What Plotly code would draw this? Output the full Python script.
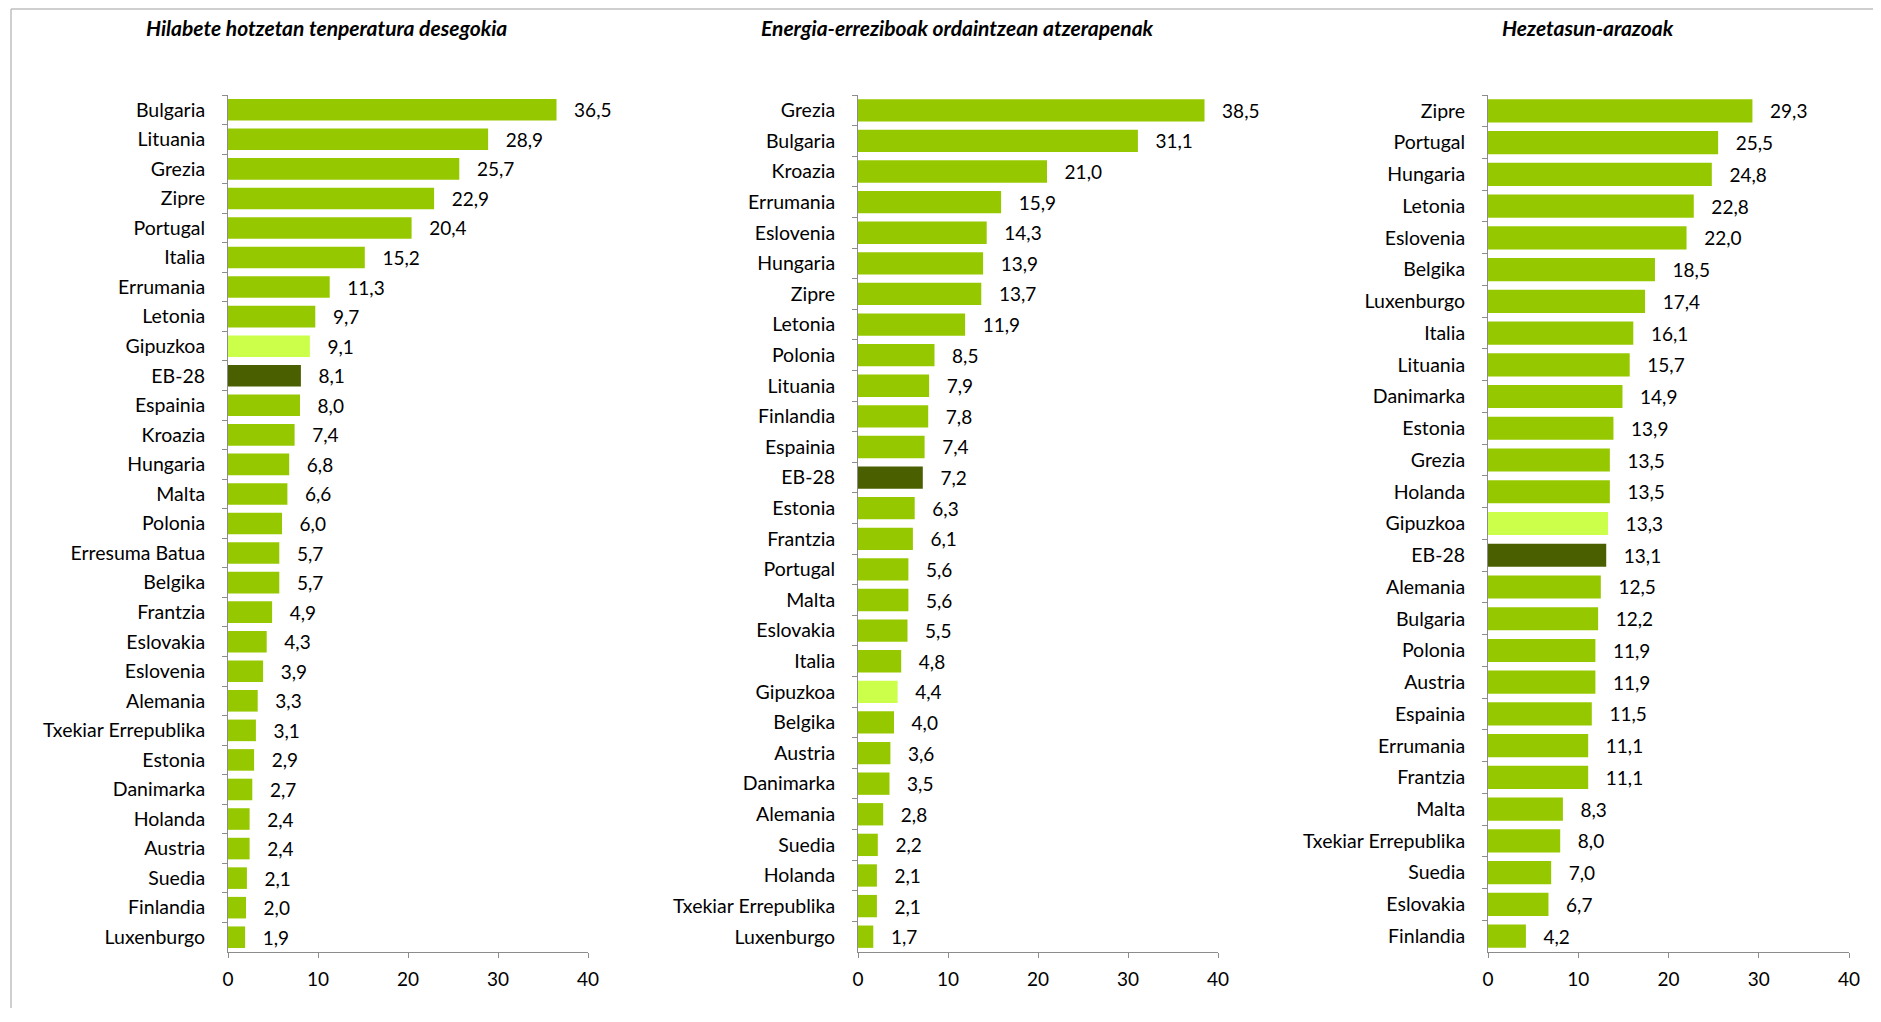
import plotly.graph_objects as go

# ---- data ----
titles = [
    "Hilabete hotzetan tenperatura desegokia",
    "Energia-erreziboak ordaintzean atzerapenak",
    "Hezetasun-arazoak",
]

countries_1 = ["Bulgaria", "Lituania", "Grezia", "Zipre", "Portugal", "Italia", "Errumania",
               "Letonia", "Gipuzkoa", "EB-28", "Espainia", "Kroazia", "Hungaria", "Malta",
               "Polonia", "Erresuma Batua", "Belgika", "Frantzia", "Eslovakia", "Eslovenia",
               "Alemania", "Txekiar Errepublika", "Estonia", "Danimarka", "Holanda", "Austria",
               "Suedia", "Finlandia", "Luxenburgo"]
values_1 = [36.5, 28.9, 25.7, 22.9, 20.4, 15.2, 11.3, 9.7, 9.1, 8.1, 8.0, 7.4, 6.8, 6.6,
            6.0, 5.7, 5.7, 4.9, 4.3, 3.9, 3.3, 3.1, 2.9, 2.7, 2.4, 2.4, 2.1, 2.0, 1.9]

countries_2 = ["Grezia", "Bulgaria", "Kroazia", "Errumania", "Eslovenia", "Hungaria", "Zipre",
               "Letonia", "Polonia", "Lituania", "Finlandia", "Espainia", "EB-28", "Estonia",
               "Frantzia", "Portugal", "Malta", "Eslovakia", "Italia", "Gipuzkoa", "Belgika",
               "Austria", "Danimarka", "Alemania", "Suedia", "Holanda", "Txekiar Errepublika",
               "Luxenburgo"]
values_2 = [38.5, 31.1, 21.0, 15.9, 14.3, 13.9, 13.7, 11.9, 8.5, 7.9, 7.8, 7.4, 7.2, 6.3,
            6.1, 5.6, 5.6, 5.5, 4.8, 4.4, 4.0, 3.6, 3.5, 2.8, 2.2, 2.1, 2.1, 1.7]

countries_3 = ["Zipre", "Portugal", "Hungaria", "Letonia", "Eslovenia", "Belgika", "Luxenburgo",
               "Italia", "Lituania", "Danimarka", "Estonia", "Grezia", "Holanda", "Gipuzkoa",
               "EB-28", "Alemania", "Bulgaria", "Polonia", "Austria", "Espainia", "Errumania",
               "Frantzia", "Malta", "Txekiar Errepublika", "Suedia", "Eslovakia", "Finlandia"]
values_3 = [29.3, 25.5, 24.8, 22.8, 22.0, 18.5, 17.4, 16.1, 15.7, 14.9, 13.9, 13.5, 13.5, 13.3,
            13.1, 12.5, 12.2, 11.9, 11.9, 11.5, 11.1, 11.1, 8.3, 8.0, 7.0, 6.7, 4.2]

x_ticks = [0, 10, 20, 30, 40]

# ---- style ----
# figure sits inside the default 8px body margin of the page, with slack at the bottom
OFF = 8
W, H = 1881 - 2 * OFF, 1022 - 2 * OFF - 6
FONT = "Lato, Calibri, sans-serif"
GREEN = "#96C800"
LIGHT = "#CCFF4A"
DARK = "#4A6000"
AXIS = "#8C8C8C"

def color_for(c):
    if c == "Gipuzkoa":
        return LIGHT
    if c == "EB-28":
        return DARK
    return GREEN

def px(x):
    return (x - OFF) / W

def py(y):
    return 1 - (y - OFF) / H

panels = [(countries_1, values_1), (countries_2, values_2), (countries_3, values_3)]
x_px = [(228, 588), (858, 1218), (1488, 1849)]
title_cx = [326, 957, 1588]
y_top, y_bot = 95, 952

fig = go.Figure()
NB = "\u00a0"
for i, (cats, vals) in enumerate(panels):
    n = i + 1
    fig.add_trace(go.Bar(
        x=vals, y=cats, orientation="h",
        marker=dict(color=[color_for(c) for c in cats], line=dict(width=0)),
        texttemplate=NB * 3 + "%{x:.1f}", textposition="outside",
        textfont=dict(family=FONT, size=19, color="#000000"),
        constraintext="none", cliponaxis=False,
        xaxis=f"x{n}" if n > 1 else "x", yaxis=f"y{n}" if n > 1 else "y",
        hoverinfo="x+y", showlegend=False,
    ))
    x0, x1 = x_px[i]
    xa = dict(domain=[px(x0), px(x1)], range=[0, 40], tickvals=x_ticks,
              ticks="outside", ticklen=5, tickwidth=1, tickcolor=AXIS,
              showline=True, linecolor=AXIS, linewidth=1, showgrid=False, zeroline=False,
              tickfont=dict(family=FONT, size=19, color="#000000"),
              ticklabelstandoff=5, automargin=False,
              anchor=f"y{n}" if n > 1 else "y", fixedrange=True)
    ya = dict(domain=[py(y_bot), py(y_top)], type="category",
              autorange="reversed", tickson="boundaries",
              ticks="outside", ticklen=5, tickwidth=1, tickcolor=AXIS,
              showline=True, linecolor=AXIS, linewidth=1, showgrid=False,
              tickfont=dict(family=FONT, size=19.5, color="#000000"),
              ticklabelstandoff=18, automargin=False,
              anchor=f"x{n}" if n > 1 else "x", fixedrange=True)
    fig.layout[f"xaxis{n}" if n > 1 else "xaxis"] = xa
    fig.layout[f"yaxis{n}" if n > 1 else "yaxis"] = ya
    fig.add_annotation(text=f"<b><i>{titles[i]}</i></b>", x=px(title_cx[i]), y=py(27),
                       xref="paper", yref="paper", xanchor="center", yanchor="middle",
                       showarrow=False, font=dict(family=FONT, size=21, color="#000000"))

# outer frame (top and left edges visible)
fig.add_shape(type="line", xref="paper", yref="paper", x0=px(11), x1=1.02, y0=py(9), y1=py(9),
              line=dict(color="#BFBFBF", width=1.5))
fig.add_shape(type="line", xref="paper", yref="paper", x0=px(11), x1=px(11), y0=py(9), y1=-0.05,
              line=dict(color="#BFBFBF", width=1.5))

fig.update_layout(
    width=W, height=H, margin=dict(l=0, r=0, t=0, b=0, autoexpand=False),
    paper_bgcolor="white", plot_bgcolor="white",
    bargap=0.27, separators=",.",
    font=dict(family=FONT, size=19, color="#000000"),
)

fig.write_html("out.html", config={"displayModeBar": False})
